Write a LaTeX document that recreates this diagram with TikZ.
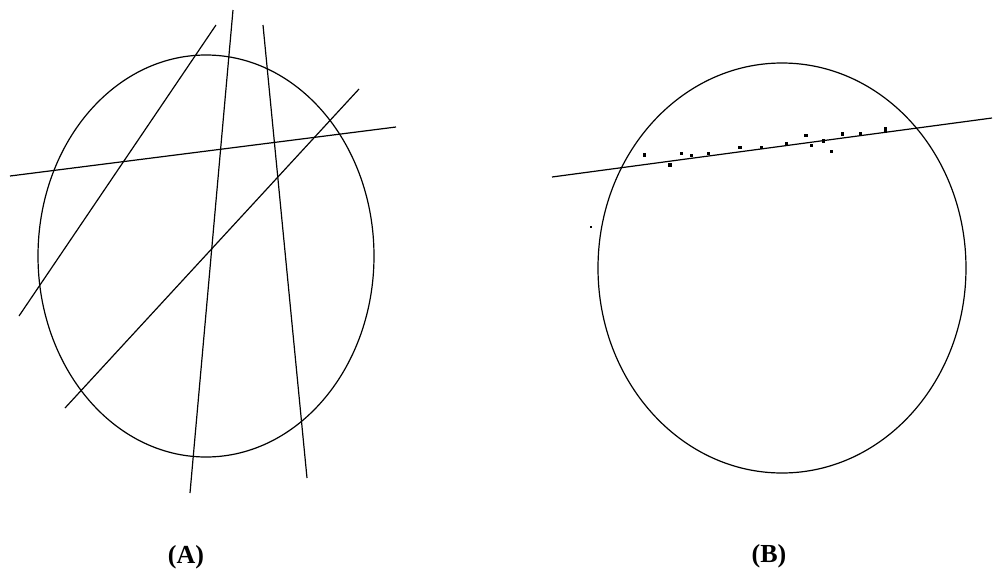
\documentclass[tikz,border=0pt]{standalone}
\usepackage{fontspec}
\setmainfont{Liberation Serif}
\newcommand{\labfont}{\fontsize{26}{30}\selectfont\bfseries}
\begin{document}
\begin{tikzpicture}[x=1pt,y=-1pt,
  ln/.style={line width=1.2pt,black},
  dot/.style={fill=black,inner sep=0pt,minimum size=3.2pt,draw=none,rectangle},
  lab/.style={inner sep=0pt}]
\useasboundingbox (0,0) rectangle (994,574);
% panel A
\draw[ln] (206,256) ellipse [x radius=168, y radius=201];
\coordinate (a1s) at (10,176); \coordinate (a1e) at (396,127);
\coordinate (a2s) at (216,25); \coordinate (a2e) at (19,316);
\coordinate (a3s) at (233,10); \coordinate (a3e) at (190,493);
\coordinate (a4s) at (263,25); \coordinate (a4e) at (307,478);
\coordinate (a5s) at (359,89); \coordinate (a5e) at (65,408);
\draw[ln] (a1s) -- (a1e);
\draw[ln] (a2s) -- (a2e);
\draw[ln] (a3s) -- (a3e);
\draw[ln] (a4s) -- (a4e);
\draw[ln] (a5s) -- (a5e);
\node[lab] (la) at (186,557) {\labfont (A)};
% panel B
\draw[ln] (782,268) ellipse [x radius=184, y radius=205];
\coordinate (bs) at (552,177); \coordinate (be) at (992,118);
\draw[ln] (bs) -- (be);
\foreach \p [count=\i] in {(644.7,155),(670,165),(681.7,153.3),(691.7,155.3),(708.3,153.3),(740,147.3),(761.7,147.7),(786.7,143.3),(806,135.7),(811.7,145.3),(823.3,141),(831.7,151.7),(842.7,134),(860.7,133.3),(885.7,128.3),(885.7,131)}
  \node[dot] (d\i) at \p {};
\node[dot,minimum size=1.6pt] (dx) at (591,226.7) {};
\node[lab] (lb) at (769,556) {\labfont (B)};
\end{tikzpicture}
\end{document}
